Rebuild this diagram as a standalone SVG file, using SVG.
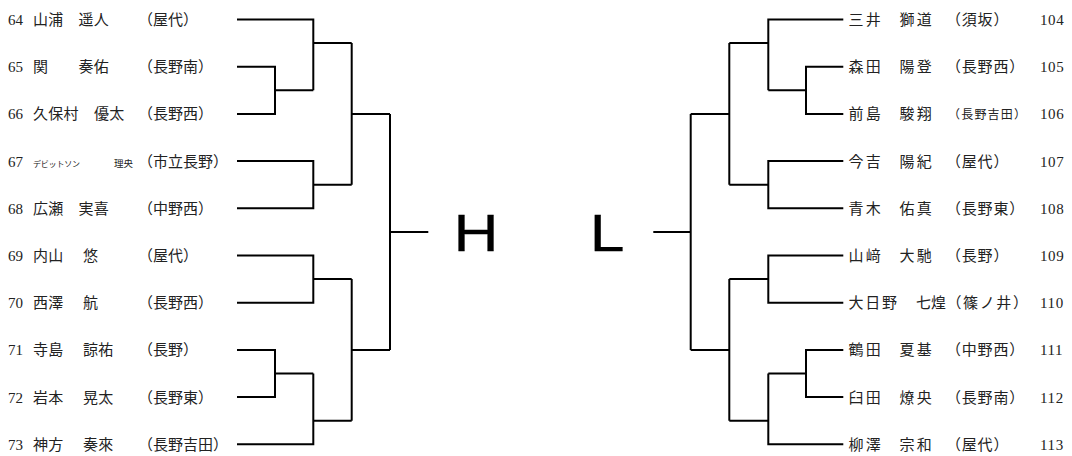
<svg xmlns="http://www.w3.org/2000/svg" width="1072" height="456" viewBox="0 0 1072 456">
<style>
.bg{fill:#fff}
.ln{fill:none;stroke:#000;stroke-width:2}
.num{font-family:"Liberation Serif",serif;font-size:15px;fill:#222}
.rnum{font-family:"Liberation Serif",serif;font-size:15px;letter-spacing:0.6px;fill:#222}
.jp{font-family:"Noto Sans CJK JP","Noto Sans",sans-serif;font-size:15px;fill:#222;letter-spacing:0.3px}
.rjp{font-family:"Noto Sans CJK JP","Noto Sans",sans-serif;font-size:15px;fill:#222;letter-spacing:2.2px}
.sch{font-family:"Noto Sans CJK JP","Noto Sans",sans-serif;font-size:15px;fill:#222}
.rsch{font-family:"Noto Sans CJK JP","Noto Sans",sans-serif;font-size:15px;fill:#222;letter-spacing:0.8px}
.sm{font-family:"Noto Sans CJK JP","Noto Sans",sans-serif;font-size:8px;fill:#222}
.big{font-family:"Liberation Sans",Arial,sans-serif;font-size:52px;fill:#000;stroke:#000;stroke-width:0.3}
</style>
<rect class="bg" x="0" y="0" width="1072" height="456"/>
<g id="connectors" class="ln">
<path d="M237 19.5H313.3V90.3M237 66.7H275V113.9H237M275 90.3H313.3M313.3 43H351.7"/>
<path d="M237 161.1H313.3V208.3H237M313.3 184.7H351.7M351.7 43V184.7M351.7 113.9H390"/>
<path d="M237 255.5H313.3V302.7H237M313.3 279.1H351.7M237 349.9H275V397.1H237M275 373.5H313.3M237 444.3H313.3V373.5M313.3 420.7H351.7M351.7 279.1V420.7M351.7 349.9H390"/>
<path d="M390 113.9V349.9M390 231.9H428.3"/>
<path d="M843.3 19.5H768.3V90.3M843.3 66.7H806V113.9H843.3M806 90.3H768.3M768.3 43H729.3"/>
<path d="M843.3 161.1H768.3V208.3H843.3M768.3 184.7H729.3M729.3 43V184.7M729.3 113.9H690.7"/>
<path d="M843.3 255.5H768.3V302.7H843.3M768.3 279.1H729.3M843.3 349.9H806V397.1H843.3M806 373.5H768.3M843.3 444.3H768.3V373.5M768.3 420.7H729.3M729.3 279.1V420.7M729.3 349.9H690.7"/>
<path d="M690.7 113.9V349.9M690.7 231.9H653.3"/>
</g>
<g id="label-H"><text class="big" transform="translate(453.4 250.7) scale(1.2 1)">H</text></g>
<g id="label-L"><text class="big" transform="translate(589.7 250.7) scale(1.2 1)">L</text></g>
<g id="p64"><text class="num" x="8" y="25">64</text><text class="jp" x="33" y="25">山浦</text><text class="jp" x="78.5" y="25">遥人</text><text class="sch" x="138" y="25">（屋代）</text></g>
<g id="p65"><text class="num" x="8" y="72.2">65</text><text class="jp" x="33" y="72.2">関</text><text class="jp" x="78.5" y="72.2">奏佑</text><text class="sch" x="138" y="72.2">（長野南）</text></g>
<g id="p66"><text class="num" x="8" y="119.4">66</text><text class="jp" x="33" y="119.4">久保村</text><text class="jp" x="94" y="119.4">優太</text><text class="sch" x="138" y="119.4">（長野西）</text></g>
<g id="p67"><text class="num" x="8" y="166.6">67</text><text class="sm" x="33" y="166.6" style="letter-spacing:-0.2px">デビットソン</text><text class="sm" x="114" y="166.6" style="font-size:9.5px">理央</text><text class="sch" x="138" y="166.6">（市立長野）</text></g>
<g id="p68"><text class="num" x="8" y="213.8">68</text><text class="jp" x="33" y="213.8">広瀬</text><text class="jp" x="78.5" y="213.8">実喜</text><text class="sch" x="138" y="213.8">（中野西）</text></g>
<g id="p69"><text class="num" x="8" y="261">69</text><text class="jp" x="33" y="261">内山</text><text class="jp" x="83" y="261">悠</text><text class="sch" x="138" y="261">（屋代）</text></g>
<g id="p70"><text class="num" x="8" y="308.2">70</text><text class="jp" x="33" y="308.2">西澤</text><text class="jp" x="83" y="308.2">航</text><text class="sch" x="138" y="308.2">（長野西）</text></g>
<g id="p71"><text class="num" x="8" y="355.4">71</text><text class="jp" x="33" y="355.4">寺島</text><text class="jp" x="83" y="355.4">諒祐</text><text class="sch" x="138" y="355.4">（長野）</text></g>
<g id="p72"><text class="num" x="8" y="402.6">72</text><text class="jp" x="33" y="402.6">岩本</text><text class="jp" x="83" y="402.6">晃太</text><text class="sch" x="138" y="402.6">（長野東）</text></g>
<g id="p73"><text class="num" x="8" y="449.8">73</text><text class="jp" x="33" y="449.8">神方</text><text class="jp" x="83" y="449.8">奏來</text><text class="sch" x="138" y="449.8">（長野吉田）</text></g>
<g id="p104"><text class="rjp" x="848.5" y="25">三井</text><text class="rjp" x="899.5" y="25">獅道</text><text class="rsch" x="946" y="25">（須坂）</text><text class="rnum" x="1040" y="25">104</text></g>
<g id="p105"><text class="rjp" x="848.5" y="72.2">森田</text><text class="rjp" x="899.5" y="72.2">陽登</text><text class="rsch" x="946" y="72.2">（長野西）</text><text class="rnum" x="1040" y="72.2">105</text></g>
<g id="p106"><text class="rjp" x="848.5" y="119.4">前島</text><text class="rjp" x="899.5" y="119.4">駿翔</text><text class="rsch" x="948" y="119.4" style="font-size:12px;letter-spacing:1.2px">（長野吉田）</text><text class="rnum" x="1040" y="119.4">106</text></g>
<g id="p107"><text class="rjp" x="848.5" y="166.6">今吉</text><text class="rjp" x="899.5" y="166.6">陽紀</text><text class="rsch" x="946" y="166.6">（屋代）</text><text class="rnum" x="1040" y="166.6">107</text></g>
<g id="p108"><text class="rjp" x="848.5" y="213.8">青木</text><text class="rjp" x="899.5" y="213.8">佑真</text><text class="rsch" x="946" y="213.8">（長野東）</text><text class="rnum" x="1040" y="213.8">108</text></g>
<g id="p109"><text class="rjp" x="848.5" y="261">山﨑</text><text class="rjp" x="899.5" y="261">大馳</text><text class="rsch" x="946" y="261">（長野）</text><text class="rnum" x="1040" y="261">109</text></g>
<g id="p110"><text class="rjp" x="848.5" y="308.2" style="letter-spacing:1.7px">大日野</text><text class="jp" x="916" y="308.2" style="letter-spacing:0">七煌</text><text class="rsch" x="946.5" y="308.2" style="letter-spacing:1.6px">（篠ノ井）</text><text class="rnum" x="1040" y="308.2">110</text></g>
<g id="p111"><text class="rjp" x="848.5" y="355.4">鶴田</text><text class="rjp" x="899.5" y="355.4">夏基</text><text class="rsch" x="946" y="355.4">（中野西）</text><text class="rnum" x="1040" y="355.4">111</text></g>
<g id="p112"><text class="rjp" x="848.5" y="402.6">臼田</text><text class="rjp" x="899.5" y="402.6">燎央</text><text class="rsch" x="946" y="402.6">（長野南）</text><text class="rnum" x="1040" y="402.6">112</text></g>
<g id="p113"><text class="rjp" x="848.5" y="449.8">柳澤</text><text class="rjp" x="899.5" y="449.8">宗和</text><text class="rsch" x="946" y="449.8">（屋代）</text><text class="rnum" x="1040" y="449.8">113</text></g>
</svg>
